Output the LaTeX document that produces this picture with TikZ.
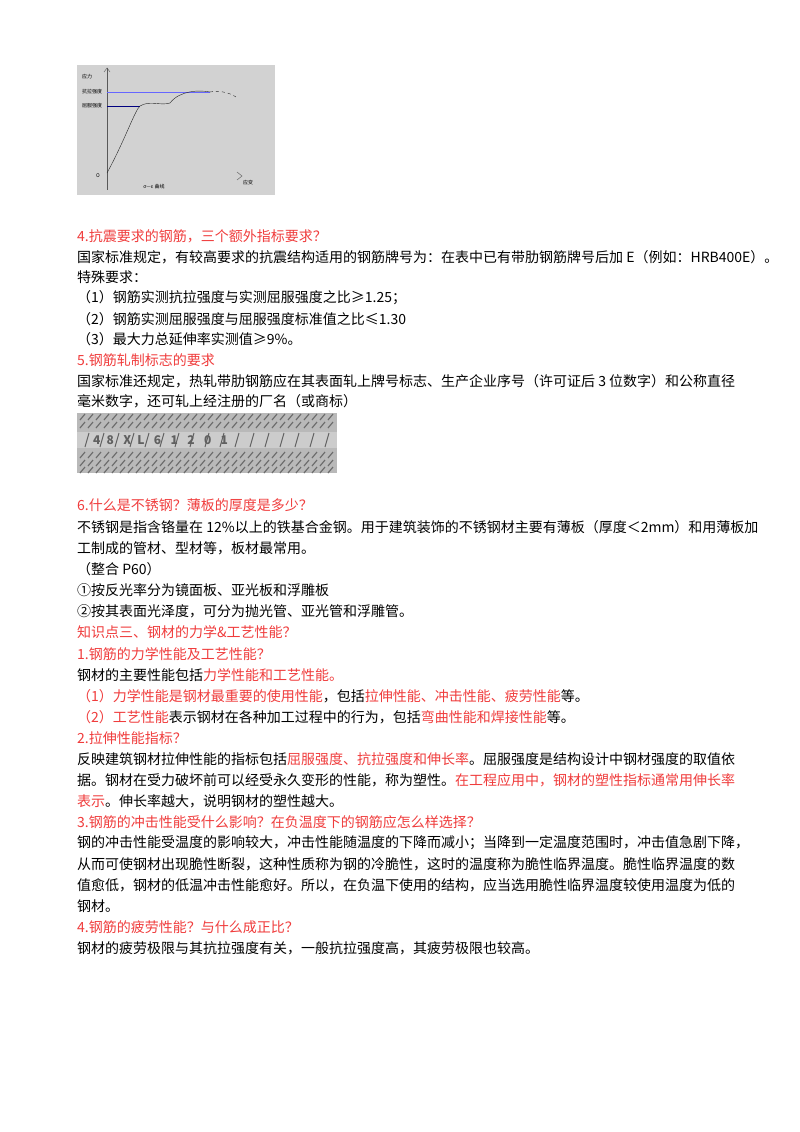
\documentclass[tikz,border=0pt]{standalone}
\usepackage{fontspec}
\setmainfont{Noto Sans CJK SC}
\newfontfamily\cjk{Noto Sans CJK SC}
\begin{document}
\begin{tikzpicture}[x=1pt,y=-1pt,
  ln/.style={anchor=west,inner sep=0pt,font=\fontsize{14}{17}\selectfont},
  hd/.style={ln,text=rd}]
\definecolor{rd}{HTML}{F03C3C}
\useasboundingbox[fill=white] (0,0) rectangle (800,1132);
% graph image
\fill[gray!35] (77,65) rectangle (275,195);
\draw[gray!70!black] (104,72) -- (107,68) -- (110,72);
\draw[gray!70!black] (107,68) -- (107,190);
\draw[gray!70!black] (237,172) -- (242,176) -- (237,180);
\draw[blue!60,thin] (107,92) -- (210,92);
\draw[blue!50!black,thin] (107,106) -- (140,106);
\draw[gray!30!black,thin] (107,173) .. controls (125,140) and (135,110) .. (140,106)
  .. controls (150,100) and (160,106) .. (170,103) .. controls (180,90) and (200,90) .. (210,92);
\draw[gray!30!black,thin,dashed] (210,92) .. controls (220,90) and (230,93) .. (236,97);
\node[font=\tiny,inner sep=0pt] (g1) at (87,77) {\cjk 应力};
\node[font=\tiny,inner sep=0pt] (g2) at (92,92) {\cjk 抗拉强度};
\node[font=\tiny,inner sep=0pt] (g3) at (92,106) {\cjk 屈服强度};
\node[font=\tiny,inner sep=0pt] (g4) at (98,176) {O};
\node[font=\tiny,inner sep=0pt] (g5) at (248,183) {\cjk 应变};
\node[font=\tiny,inner sep=0pt] (g6) at (154,187) {\cjk σ—ε 曲线};
% rebar image
\fill[gray!55] (77,413) rectangle (337,473);
\foreach \yy in {417,425,455,463,470}{
  \foreach \xx in {80,88,...,334}{\draw[gray!85!black,line width=1.2pt] (\xx,\yy+3) -- (\xx+5,\yy-3);}}
\fill[gray!40] (77,432) rectangle (337,448);
\foreach \xx in {85,100,...,330}{\draw[gray!75!black,line width=1pt] (\xx,447) -- (\xx+4,433);}
\node[ln,text=gray!75!black,font=\bfseries\fontsize{12}{12}\selectfont] (rb) at (93,440) {4 \;8\;\; X \;L\;\; 6\;\; 1\;\; 2\;\; 0\;\; 1};
% text
\node[hd] (t1) at (77,236) {4.抗震要求的钢筋，三个额外指标要求？};
\node[ln] (t2) at (77,257) {国家标准规定，有较高要求的抗震结构适用的钢筋牌号为：在表中已有带肋钢筋牌号后加 E（例如：HRB400E）。};
\node[ln] (t3) at (77,277) {特殊要求：};
\node[ln] (t4) at (77,298) {（1）钢筋实测抗拉强度与实测屈服强度之比≥1.25；};
\node[ln] (t5) at (77,319) {（2）钢筋实测屈服强度与屈服强度标准值之比≤1.30};
\node[ln] (t6) at (77,339) {（3）最大力总延伸率实测值≥9\%。};
\node[hd] (t7) at (77,360) {5.钢筋轧制标志的要求};
\node[ln] (t8) at (77,381) {国家标准还规定，热轧带肋钢筋应在其表面轧上牌号标志、生产企业序号（许可证后 3 位数字）和公称直径};
\node[ln] (t9) at (77,401) {毫米数字，还可轧上经注册的厂名（或商标）};
\node[hd] (t10) at (77,505) {6.什么是不锈钢？薄板的厚度是多少？};
\node[ln] (t11) at (77,527) {不锈钢是指含铬量在 12\%以上的铁基合金钢。用于建筑装饰的不锈钢材主要有薄板（厚度＜2mm）和用薄板加};
\node[ln] (t12) at (77,548) {工制成的管材、型材等，板材最常用。};
\node[ln] (t13) at (77,569) {（整合 P60）};
\node[ln] (t14) at (77,590) {①按反光率分为镜面板、亚光板和浮雕板};
\node[ln] (t15) at (77,611) {②按其表面光泽度，可分为抛光管、亚光管和浮雕管。};
\node[hd] (t16) at (77,632) {知识点三、钢材的力学\&工艺性能？};
\node[hd] (t17) at (77,654) {1.钢筋的力学性能及工艺性能？};
\node[ln] (t18) at (77,675) {钢材的主要性能包括\textcolor{rd}{力学性能和工艺性能。}};
\node[ln] (t19) at (77,696) {\textcolor{rd}{（1）力学性能是钢材最重要的使用性能}，包括\textcolor{rd}{拉伸性能、冲击性能、疲劳性能}等。};
\node[ln] (t20) at (77,717) {\textcolor{rd}{（2）工艺性能}表示钢材在各种加工过程中的行为，包括\textcolor{rd}{弯曲性能和焊接性能}等。};
\node[hd] (t21) at (77,738) {2.拉伸性能指标？};
\node[ln] (t22) at (77,759) {反映建筑钢材拉伸性能的指标包括\textcolor{rd}{屈服强度、抗拉强度和伸长率}。屈服强度是结构设计中钢材强度的取值依};
\node[ln] (t23) at (77,780) {据。钢材在受力破坏前可以经受永久变形的性能，称为塑性。\textcolor{rd}{在工程应用中，钢材的塑性指标通常用伸长率}};
\node[ln] (t24) at (77,801) {\textcolor{rd}{表示}。伸长率越大，说明钢材的塑性越大。};
\node[hd] (t25) at (77,822) {3.钢筋的冲击性能受什么影响？在负温度下的钢筋应怎么样选择？};
\node[ln] (t26) at (77,843) {钢的冲击性能受温度的影响较大，冲击性能随温度的下降而减小；当降到一定温度范围时，冲击值急剧下降，};
\node[ln] (t27) at (77,864) {从而可使钢材出现脆性断裂，这种性质称为钢的冷脆性，这时的温度称为脆性临界温度。脆性临界温度的数};
\node[ln] (t28) at (77,885) {值愈低，钢材的低温冲击性能愈好。所以，在负温下使用的结构，应当选用脆性临界温度较使用温度为低的};
\node[ln] (t29) at (77,906) {钢材。};
\node[hd] (t30) at (77,927) {4.钢筋的疲劳性能？与什么成正比？};
\node[ln] (t31) at (77,948) {钢材的疲劳极限与其抗拉强度有关，一般抗拉强度高，其疲劳极限也较高。};
\end{tikzpicture}
\end{document}
